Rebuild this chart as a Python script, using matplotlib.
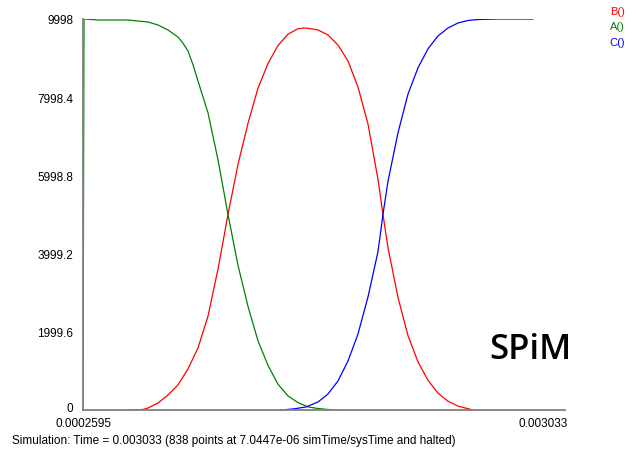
import matplotlib
matplotlib.use("Agg")
import matplotlib.pyplot as plt
import matplotlib.transforms as mtransforms

# Simulation output (time in seconds, species counts)
t_start = 0.0002595
t_end = 0.003033
y_max = 9998

y_ticks = [0, 1999.6, 3999.2, 5998.8, 7998.4, 9998]
y_tick_labels = ["0", "1999.6", "3999.2", "5998.8", "7998.4", "9998"]

time_A = [0.0002595, 0.0002655, 0.0002715, 0.0003500, 0.0005310, 0.0006513,
          0.0007116, 0.0007719, 0.0008322, 0.0008624, 0.0008925, 0.0009227,
          0.0009528, 0.0010131, 0.0010734, 0.0011337, 0.0011940, 0.0012543,
          0.0013146, 0.0013749, 0.0014351, 0.0014954, 0.0015557, 0.0016160,
          0.0016763, 0.0017366, 0.0017969]
count_A = [0, 9998, 9998, 9972, 9972, 9921, 9845, 9717, 9538, 9380, 9180,
           8830, 8413, 7600, 6400, 5000, 3700, 2650, 1770, 1140, 660, 360,
           190, 80, 38, 13, 0]

time_B = [0.0005310, 0.0006212, 0.0006513, 0.0007116, 0.0007719, 0.0008322,
          0.0008925, 0.0009528, 0.0010131, 0.0010734, 0.0011337, 0.0011940,
          0.0012543, 0.0013146, 0.0013749, 0.0014351, 0.0014954, 0.0015557,
          0.0015979, 0.0016461, 0.0016763, 0.0017366, 0.0017969, 0.0018572,
          0.0019175, 0.0019778, 0.0020381, 0.0020682, 0.0020984, 0.0021587,
          0.0022190, 0.0022793, 0.0023396, 0.0023999, 0.0024602, 0.0025205,
          0.0026109]
count_B = [0, 13, 51, 179, 384, 640, 1050, 1585, 2400, 3600, 5000, 6280,
           7330, 8230, 8860, 9320, 9610, 9750, 9768, 9742, 9717, 9589, 9333,
           8924, 8259, 7313, 5900, 5000, 4150, 2880, 1900, 1230, 760, 430,
           225, 100, 0]

time_C = [0.0014531, 0.0015255, 0.0016039, 0.0016763, 0.0017366, 0.0017969,
          0.0018572, 0.0019175, 0.0019778, 0.0020381, 0.0020682, 0.0020984,
          0.0021587, 0.0022190, 0.0022793, 0.0023396, 0.0023999, 0.0024602,
          0.0025205, 0.0025808, 0.0026411, 0.0027617, 0.0029727]
count_C = [0, 26, 77, 205, 409, 742, 1253, 1943, 2890, 4050, 5000, 5850,
           7090, 8080, 8750, 9235, 9565, 9768, 9896, 9960, 9985, 9998, 9998]

legend_names = ["B()", "A()", "C()"]
colors = {"A()": "#008000", "B()": "#ff0000", "C()": "#0000ff"}

plt.rcParams["font.family"] = ["Liberation Sans", "DejaVu Sans"]

W, H = 638, 452
fig = plt.figure(figsize=(W / 100, H / 100), dpi=100)
ax = fig.add_axes([83 / W, (H - 411) / H, (565 - 83) / W, (411 - 20) / H])

ax.plot(time_B, count_B, color=colors["B()"], lw=0.9)
ax.plot(time_A, count_A, color=colors["A()"], lw=0.9)
ax.plot(time_C, count_C, color=colors["C()"], lw=0.9)

# 0.003033 sits 460 px right of the origin; the axis line runs 482 px
px_per_t = 460 / (t_end - t_start)
ax.set_xlim(t_start, t_start + 482 / px_per_t)
ax.set_ylim(0, y_max)

for side in ("top", "right"):
    ax.spines[side].set_visible(False)
for side in ("left", "bottom"):
    ax.spines[side].set_color("#808080")
    ax.spines[side].set_linewidth(1.3)

ax.set_yticks(y_ticks)
ax.set_yticklabels(y_tick_labels)
ax.set_xticks([t_start, t_end])
ax.set_xticklabels(["0.0002595", "0.003033"])
ax.tick_params(axis="both", length=0, labelsize=8.5, colors="#000000")
ax.tick_params(axis="y", pad=7)
ax.tick_params(axis="x", pad=5)

# lift the "0" label so it clears the first time label
zero_label = ax.get_yticklabels()[0]
zero_label.set_transform(zero_label.get_transform() +
                         mtransforms.ScaledTranslation(0, 3 / 100, fig.dpi_scale_trans))

# species legend, top right
for i, name in enumerate(legend_names):
    fig.text(625 / W, 1 - (12 + 15.5 * i) / H, name, color=colors[name],
             ha="right", va="center", fontsize=8)

fig.text(12 / W, 1 - 441 / H,
         "Simulation: Time = 0.003033 (838 points at 7.0447e-06 simTime/sysTime and halted)",
         ha="left", va="center", fontsize=8.5)

fig.text(530 / W, 1 - 350 / H, "SPiM", ha="center", va="center", fontsize=25,
         family=["Open Sans", "DejaVu Sans"], fontweight="semibold", color="black")

fig.savefig("out.png", dpi=100)
